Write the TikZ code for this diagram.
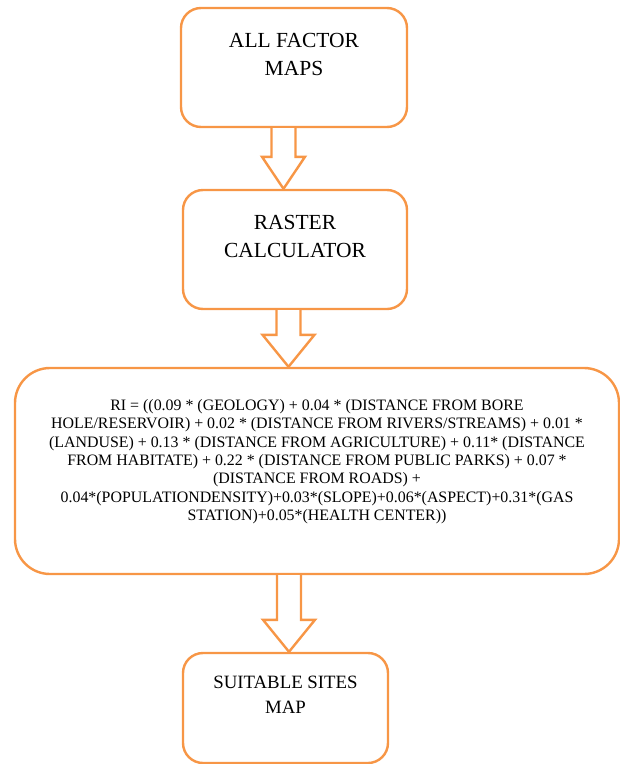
\documentclass[tikz,border=0pt]{standalone}
\usepackage{fontspec}
\setmainfont{Liberation Serif}
\usetikzlibrary{calc}

\definecolor{boxorange}{HTML}{F79646}

\tikzset{
	flowbox/.style={draw=boxorange,line width=2.4pt,rounded corners=20pt,fill=white},
	boxtext/.style={anchor=north,align=center,font=\fontsize{21.5}{28}\selectfont},
	blockline/.style={draw=boxorange,line width=2.4pt,fill=white,line join=miter}
}

% hollow down arrow: #1 = x, #2 = from node, #3 = to node, #4 = half head width
\newcommand{\blockarrow}[4]{%
	\draw[blockline] let \p1=(#2.south), \p2=(#3.north) in
		({#1pt-12pt},\y1) -- ({#1pt-12pt},{\y2+32pt}) -- ({#1pt-#4pt},{\y2+32pt})
		-- (#1pt,\y2) -- ({#1pt+#4pt},{\y2+32pt}) -- ({#1pt+12pt},{\y2+32pt})
		-- ({#1pt+12pt},\y1);}

\begin{document}
\begin{tikzpicture}[x=1pt,y=-1pt]
%\draw[help lines] (0,0) grid (620,764);
\useasboundingbox (0,0) rectangle (620,764);

\node[flowbox,minimum width=226pt,minimum height=119pt,
	label={[boxtext,yshift=-22.5pt]north:{ALL FACTOR\\MAPS}}] (factors) at (294,67.5) {};
\node[flowbox,minimum width=224pt,minimum height=119pt,
	label={[boxtext,yshift=-22.5pt]north:{RASTER\\CALCULATOR}}] (raster) at (295,249.5) {};
\node[flowbox,rounded corners=35pt,minimum width=604pt,minimum height=206pt,
	label={[anchor=north,align=center,yshift=-29pt,font=\fontsize{15.9}{18.4}\selectfont]north:{%
		RI = ((0.09 * (GEOLOGY) + 0.04 * (DISTANCE FROM BORE\\
		HOLE/RESERVOIR) + 0.02 * (DISTANCE FROM RIVERS/STREAMS) + 0.01 *\\
		(LANDUSE) + 0.13 * (DISTANCE FROM AGRICULTURE) + 0.11* (DISTANCE\\
		FROM HABITATE) + 0.22 * (DISTANCE FROM PUBLIC PARKS) + 0.07 *\\
		(DISTANCE FROM ROADS) +\\
		0.04*(POPULATIONDENSITY)+0.03*(SLOPE)+0.06*(ASPECT)+0.31*(GAS\\
		STATION)+0.05*(HEALTH CENTER))}}] (formula) at (317,471) {};
\node[flowbox,minimum width=205pt,minimum height=110pt,
	label={[boxtext,yshift=-21pt,font=\fontsize{18.8}{25}\selectfont]north:{SUITABLE SITES\\MAP}}] (sites) at (285.5,708) {};

% Arrows between the boxes
\blockarrow{283.5}{factors}{raster}{21.5}
\blockarrow{288.5}{raster}{formula}{26}
\blockarrow{289}{formula}{sites}{26}

\end{tikzpicture}
\end{document}
